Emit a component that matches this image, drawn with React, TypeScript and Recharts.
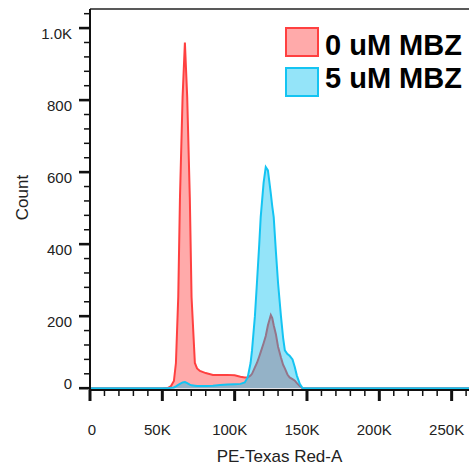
import React from 'react';
import { AreaChart, Area, XAxis, YAxis, ReferenceLine, Legend, Label } from 'recharts';

// Fluorescence channel (thousands)
const xValuesK = [0, 50, 54, 56, 58, 59.4, 61, 62.2, 64, 65.6, 67.2, 69, 70.2, 72.5, 74, 76, 80, 85, 90, 95, 100, 104, 107, 109, 111, 112, 114, 115.4, 117, 118, 120, 121.5, 123, 125, 126, 127, 128.5, 130, 132, 133.5, 134.7, 136.5, 138, 140, 141.6, 143, 145, 147, 150, 200, 262];
// 0 uM MBZ counts
const count0uM = [0, 0, 1, 6, 20, 70, 253, 530, 808, 960, 808, 530, 253, 70, 55, 48, 42, 37, 37, 37, 36, 32, 30, 30, 35, 40, 58, 70, 88, 100, 125, 145, 175, 203, 195, 175, 150, 115, 85, 65, 55, 38, 30, 25, 21, 14, 6, 0, 0, 0, 0];
// 5 uM MBZ counts
const count5uM = [0, 0, 0, 1, 2, 5, 9, 12, 16, 17, 14, 10, 8, 7, 6, 6, 6, 7, 9, 10, 11, 12, 16, 30, 70, 105, 200, 292, 400, 475, 570, 614, 605, 540, 505, 475, 380, 292, 200, 140, 105, 95, 90, 80, 58, 35, 12, 0, 0, 0, 0];

const seriesNames = ['0 uM MBZ', '5 uM MBZ'];
const xMajorTicks = [0, 50, 100, 150, 200, 250];
const yMajorTicks = [0, 200, 400, 600, 800, 1000];
const X_MAX = 262;
const Y_MIN = -5;
const Y_MAX = 1053;

const xTicks: number[] = [];
for (let v = 0; v <= 260; v += 10) xTicks.push(v);
const yTicks: number[] = [];
for (let v = 0; v <= 1040; v += 40) yTicks.push(v);

const data = xValuesK.map((x, i) => ({ x, a: count0uM[i], b: count5uM[i] }));

const FONT = "Arial, 'Liberation Sans', sans-serif";
const RED_STROKE = '#ff4040';
const RED_FILL = '#ff5555';
const BLUE_STROKE = '#14c4f2';
const BLUE_FILL = '#00bef0';

const fmtY = (v: number) => (v >= 1000 ? (v / 1000).toFixed(1) + 'K' : String(v));
const fmtX = (v: number) => (v === 0 ? '0' : v + 'K');

const YTick = (props: any) => {
  const { x, y, payload } = props;
  const v = payload.value;
  const major = yMajorTicks.includes(v);
  if (!major) {
    return <line x1={x - 6} x2={x} y1={y} y2={y} stroke="#111" strokeWidth={1.5} />;
  }
  return (
    <g>
      <line x1={x - 11} x2={x} y1={y} y2={y} stroke="#111" strokeWidth={2.6} />
      <text x={x - 18} y={y + (v === 0 ? -5 : 5)} textAnchor="end" dominantBaseline="central" fontSize={15} fontFamily={FONT} fill="#222">
        {fmtY(v)}
      </text>
    </g>
  );
};

const XTick = (props: any) => {
  const { x, y, payload } = props;
  const v = payload.value;
  const major = xMajorTicks.includes(v);
  if (!major) {
    return <line x1={x} x2={x} y1={y} y2={y + 6} stroke="#111" strokeWidth={1.5} />;
  }
  return (
    <g>
      <line x1={x} x2={x} y1={y} y2={y + 11} stroke="#111" strokeWidth={3} />
      <text x={x + (v === 0 ? 2 : -5)} y={y + 39} textAnchor="middle" dominantBaseline="central" fontSize={15} fontFamily={FONT} fill="#222">
        {fmtX(v)}
      </text>
    </g>
  );
};

const LegendContent = () => {
  const colors = [
    { stroke: RED_STROKE, fill: 'rgba(255,85,85,0.5)' },
    { stroke: BLUE_STROKE, fill: 'rgba(0,190,240,0.42)' },
  ];
  return (
    <div style={{ position: 'relative', width: 0, height: 0 }}>
      {seriesNames.map((name, i) => (
        <React.Fragment key={name}>
          <div
            style={{
              position: 'absolute',
              left: 0,
              top: i * 40,
              width: 34,
              height: 30,
              boxSizing: 'border-box',
              border: `2px solid ${colors[i].stroke}`,
              background: colors[i].fill,
            }}
          />
          <div
            style={{
              position: 'absolute',
              left: 40,
              top: i === 0 ? 3.5 : 36.5,
              fontFamily: FONT,
              fontWeight: 'bold',
              fontSize: 29,
              lineHeight: '29px',
              whiteSpace: 'nowrap',
              color: '#000',
            }}
          >
            {name}
          </div>
        </React.Fragment>
      ))}
    </div>
  );
};

export default function App() {
  return (
    <div style={{ position: 'absolute', left: 0, top: 0, width: 469, height: 471, background: '#fff' }}>
      <AreaChart width={469} height={471} data={data} margin={{ top: 9, right: 0, left: 0, bottom: 0 }}>
        <XAxis
          dataKey="x"
          type="number"
          domain={[0, X_MAX]}
          ticks={xTicks}
          interval={0}
          height={81}
          tickSize={0}
          tickMargin={0}
          tickLine={false}
          axisLine={{ stroke: '#111', strokeWidth: 2 }}
          tick={<XTick />}
        >
          <Label
            content={(p: any) => {
              const vb = p.viewBox;
              return (
                <text x={vb.x + vb.width / 2} y={vb.y + 72} textAnchor="middle" fontSize={17} fontFamily={FONT} fill="#222">
                  PE-Texas Red-A
                </text>
              );
            }}
          />
        </XAxis>
        <YAxis
          type="number"
          domain={[Y_MIN, Y_MAX]}
          ticks={yTicks}
          interval={0}
          width={90}
          tickSize={0}
          tickMargin={0}
          tickLine={false}
          axisLine={{ stroke: '#111', strokeWidth: 2 }}
          tick={<YTick />}
        >
          <Label
            content={(p: any) => {
              const vb = p.viewBox;
              const cx = 22;
              const cy = vb.y + vb.height / 2 - 2;
              return (
                <text x={cx} y={cy} transform={`rotate(-90 ${cx} ${cy})`} textAnchor="middle" dominantBaseline="central" fontSize={17} fontFamily={FONT} fill="#222">
                  Count
                </text>
              );
            }}
          />
        </YAxis>
        <ReferenceLine y={Y_MAX} stroke="#222" strokeWidth={1.5} />
        <Area
          type="linear"
          dataKey="a"
          name={seriesNames[0]}
          stroke={RED_STROKE}
          strokeWidth={2}
          fill={RED_FILL}
          fillOpacity={0.5}
          baseValue={0}
          isAnimationActive={false}
          dot={false}
          activeDot={false}
        />
        <Area
          type="linear"
          dataKey="b"
          name={seriesNames[1]}
          stroke={BLUE_STROKE}
          strokeWidth={2}
          fill={BLUE_FILL}
          fillOpacity={0.42}
          baseValue={0}
          isAnimationActive={false}
          dot={false}
          activeDot={false}
        />
        <Legend
          layout="horizontal"
          verticalAlign="top"
          align="left"
          content={<LegendContent />}
          wrapperStyle={{ position: 'absolute', top: 27, left: 285, width: 0, height: 0, overflow: 'visible' }}
        />
      </AreaChart>
    </div>
  );
}
